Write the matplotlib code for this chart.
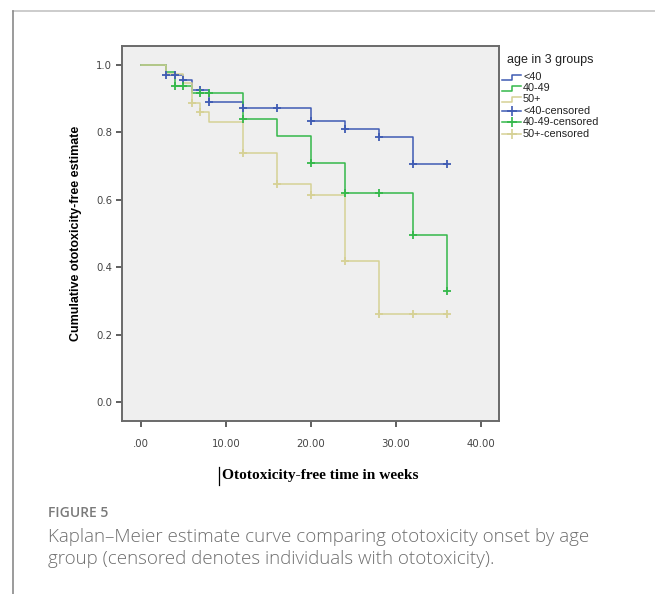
import numpy as np
import matplotlib
matplotlib.use("Agg")
import matplotlib.pyplot as plt
from matplotlib.lines import Line2D

# Kaplan-Meier steps (time in weeks, survival after the drop)
blue_t = [0, 3, 5, 6, 8, 12, 20, 24, 28, 32, 36]
blue_s = [1.0, 0.970, 0.954, 0.925, 0.890, 0.873, 0.834, 0.811, 0.785, 0.706, 0.706]
blue_cens = [3, 4, 5, 7, 8, 12, 16, 20, 24, 28, 32, 36]

green_t = [0, 3, 4, 6, 12, 16, 20, 24, 32, 36]
green_s = [1.0, 0.980, 0.938, 0.917, 0.841, 0.790, 0.710, 0.621, 0.497, 0.331]
green_cens = [4, 5, 7, 8, 12, 20, 24, 28, 32, 36]

tan_t = [0, 3, 5, 6, 7, 8, 12, 16, 20, 24, 28, 36]
tan_s = [1.0, 0.972, 0.947, 0.888, 0.860, 0.830, 0.740, 0.648, 0.614, 0.420, 0.262, 0.262]
tan_cens = [6, 7, 12, 16, 20, 24, 28, 32, 36]

groups = ["<40", "40-49", "50+"]
colors = ["#3f5bb3", "#34b84a", "#d6d195"]

x_ticks = [0, 10, 20, 30, 40]
x_ticklabels = [".00", "10.00", "20.00", "30.00", "40.00"]
y_ticks = [0.0, 0.2, 0.4, 0.6, 0.8, 1.0]


def step_value(t, s, x):
    i = np.searchsorted(t, x, side="right") - 1
    return np.asarray(s)[i]


fig = plt.figure(figsize=(6.55, 5.94), dpi=100)
fig.patch.set_facecolor("white")

# page frame lines
fig.add_artist(Line2D([13 / 655, 1.0], [1 - 11 / 594] * 2, color="#c4c4c4", lw=1.2))
fig.add_artist(Line2D([13 / 655] * 2, [0, 1 - 11 / 594], color="#8a8a8a", lw=1.2))

ax = fig.add_axes([122 / 655, 1 - 421 / 594, 377 / 655, 375 / 594])
ax.set_facecolor("#efefef")

series = [(blue_t, blue_s, blue_cens), (green_t, green_s, green_cens), (tan_t, tan_s, tan_cens)]
for (t, s, c), col in zip(series, colors):
    ax.step(t, s, where="post", color=col, lw=1.1)
for (t, s, c), col in zip(series, colors):
    ax.plot(c, step_value(t, s, c), ls="none", marker="+", ms=6, mew=1.3, color=col)

ax.set_xlim(-2.2, 42.1)
ax.set_ylim(-0.055, 1.056)
ax.set_xticks(x_ticks)
ax.set_xticklabels(x_ticklabels)
ax.set_yticks(y_ticks)
ax.set_yticklabels(["%.1f" % v for v in y_ticks])
ax.tick_params(direction="out", length=4, width=1.2, color="#444444",
               labelsize=7.3, labelcolor="#444444", pad=3)
ax.tick_params(axis="x", pad=9)
for sp in ax.spines.values():
    sp.set_color("#6a6a6a")
    sp.set_linewidth(1.4)

ax.set_ylabel("Cumulative ototoxicity-free estimate", fontsize=9, fontweight="bold",
              family="Liberation Sans", labelpad=10)

# x axis title, typeset like pasted text with a caret before it
fig.text(222 / 655, 1 - 476 / 594, "Ototoxicity-free time in weeks", ha="left", va="center",
         fontsize=11.1, fontweight="bold", family="Liberation Serif")
fig.add_artist(Line2D([219 / 655] * 2, [1 - 467 / 594, 1 - 485 / 594], color="black", lw=0.9))

# legend drawn by hand (SPSS style)
fig.text(507 / 655, 1 - 60 / 594, "age in 3 groups", fontsize=9, va="center", color="#222222",
         family="Liberation Sans")
entry_y = [77, 88, 99, 111, 122, 134]
labels = groups + [g + "-censored" for g in groups]
x0, x1 = 502 / 655, 521 / 655
for k, (yy, lab) in enumerate(zip(entry_y, labels)):
    col = colors[k % 3]
    yf = 1 - yy / 594
    if k < 3:
        xm = (x0 + x1) / 2
        dy = 5 / 594
        fig.add_artist(Line2D([x0, xm, xm, x1], [yf - dy / 2, yf - dy / 2, yf + dy / 2, yf + dy / 2],
                              color=col, lw=1.1))
    else:
        fig.add_artist(Line2D([x0, x1], [yf, yf], color=col, lw=1.1))
        fig.add_artist(Line2D([(x0 + x1) / 2], [yf], marker="+", ms=7, mew=1.2, color=col))
    fig.text(523 / 655, yf, lab, fontsize=7.8, va="center", color="#222222", family="Liberation Sans")

# caption
fig.text(48 / 655, 1 - 513 / 594, "FIGURE 5", fontsize=10, fontweight="semibold", va="center",
         color="#7a7a7a", family="Open Sans")
fig.text(48 / 655, 1 - 537 / 594, "Kaplan\u2013Meier estimate curve comparing ototoxicity onset by age",
         fontsize=13.5, fontweight="light", va="center", color="#6e6e6e", family="Open Sans")
fig.text(48 / 655, 1 - 559 / 594, "group (censored denotes individuals with ototoxicity).",
         fontsize=13.5, fontweight="light", va="center", color="#6e6e6e", family="Open Sans")

fig.savefig("out.png", dpi=100)
